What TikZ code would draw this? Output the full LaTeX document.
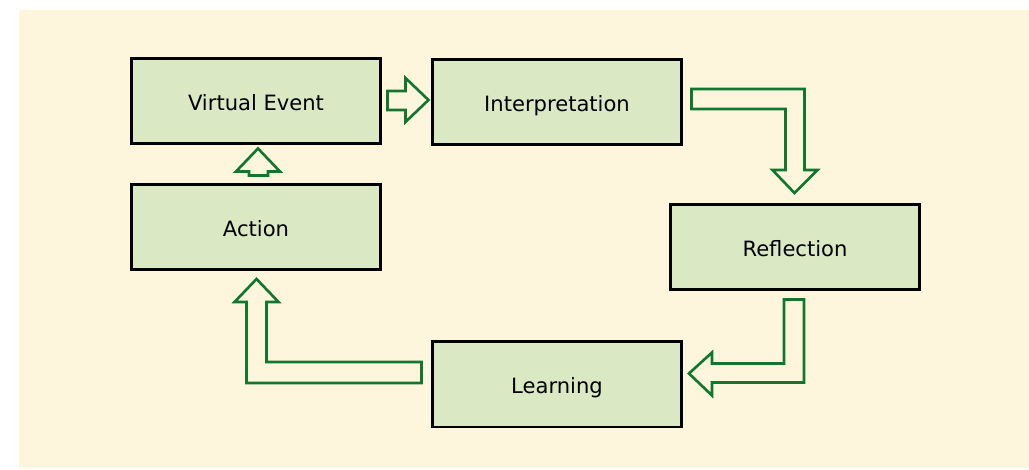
\documentclass[tikz,border=0pt]{standalone}
\usepackage{fontspec}
\setmainfont{DejaVu Sans}
\usepackage{tikz}
\usetikzlibrary{calc}

\definecolor{paper}{RGB}{254,246,220}
\definecolor{boxfill}{RGB}{218,232,196}
\definecolor{arrowgreen}{RGB}{16,118,48}

\tikzset{
  stage/.style={fill=boxfill, draw=black, line width=1.7pt, shape=rectangle,
    minimum width=5.0cm, minimum height=1.72cm, inner sep=0pt,
    text height=11pt, text depth=0pt,
    font=\fontsize{12}{14}\selectfont},
  blockarrow/.style={draw=arrowgreen, fill=paper, line width=1.5pt, line join=miter}
}

\begin{document}
\begin{tikzpicture}[x=0.02cm, y=-0.02cm]
	\useasboundingbox (0,0) rectangle (1029,470);
	\fill [paper] (19,10) rectangle (1029,468);
	\node [stage] (event) at (256, 101) {Virtual Event};
	\node [stage] (interp) at (557, 102) {Interpretation};
	\node [stage] (reflect) at (795, 247) {Reflection};
	\node [stage] (learn) at (557, 384) {Learning};
	\node [stage] (action) at (256, 227) {Action};
	% block arrows between the stages
	\draw [blockarrow] ($(event.east)+(5,-10)$) -- ++(18,0) -- ++(0,-13) -- ++(23,22)
		-- ++(-23,22) -- ++(0,-12) -- ++(-18,0) -- cycle;
	\draw [blockarrow] ($(interp.east)+(8,-13)$) -- ++(113,0) -- ++(0,81) -- ++(13,0)
		-- ++(-23,23) -- ++(-22,-23) -- ++(13,0) -- ++(0,-61) -- ++(-94,0) -- cycle;
	\draw [blockarrow] ($(reflect.south)+(-11,8)$) -- ++(20,0) -- ++(0,83) -- ++(-92,0)
		-- ++(0,13) -- ++(-23,-22) -- ++(23,-21) -- ++(0,11) -- ++(72,0) -- cycle;
	\draw [blockarrow] ($(learn.west)+(-9,-22)$) -- ++(0,21) -- ++(-175,0) -- ++(0,-81)
		-- ++(-12,0) -- ++(22,-23) -- ++(22,23) -- ++(-12,0) -- ++(0,60) -- cycle;
	\draw [blockarrow] ($(action.north)+(-7,-7)$) -- ++(19,0) -- ++(0,-4) -- ++(12,0)
		-- ++(-22,-23) -- ++(-22,23) -- ++(13,0) -- cycle;
\end{tikzpicture}
\end{document}
